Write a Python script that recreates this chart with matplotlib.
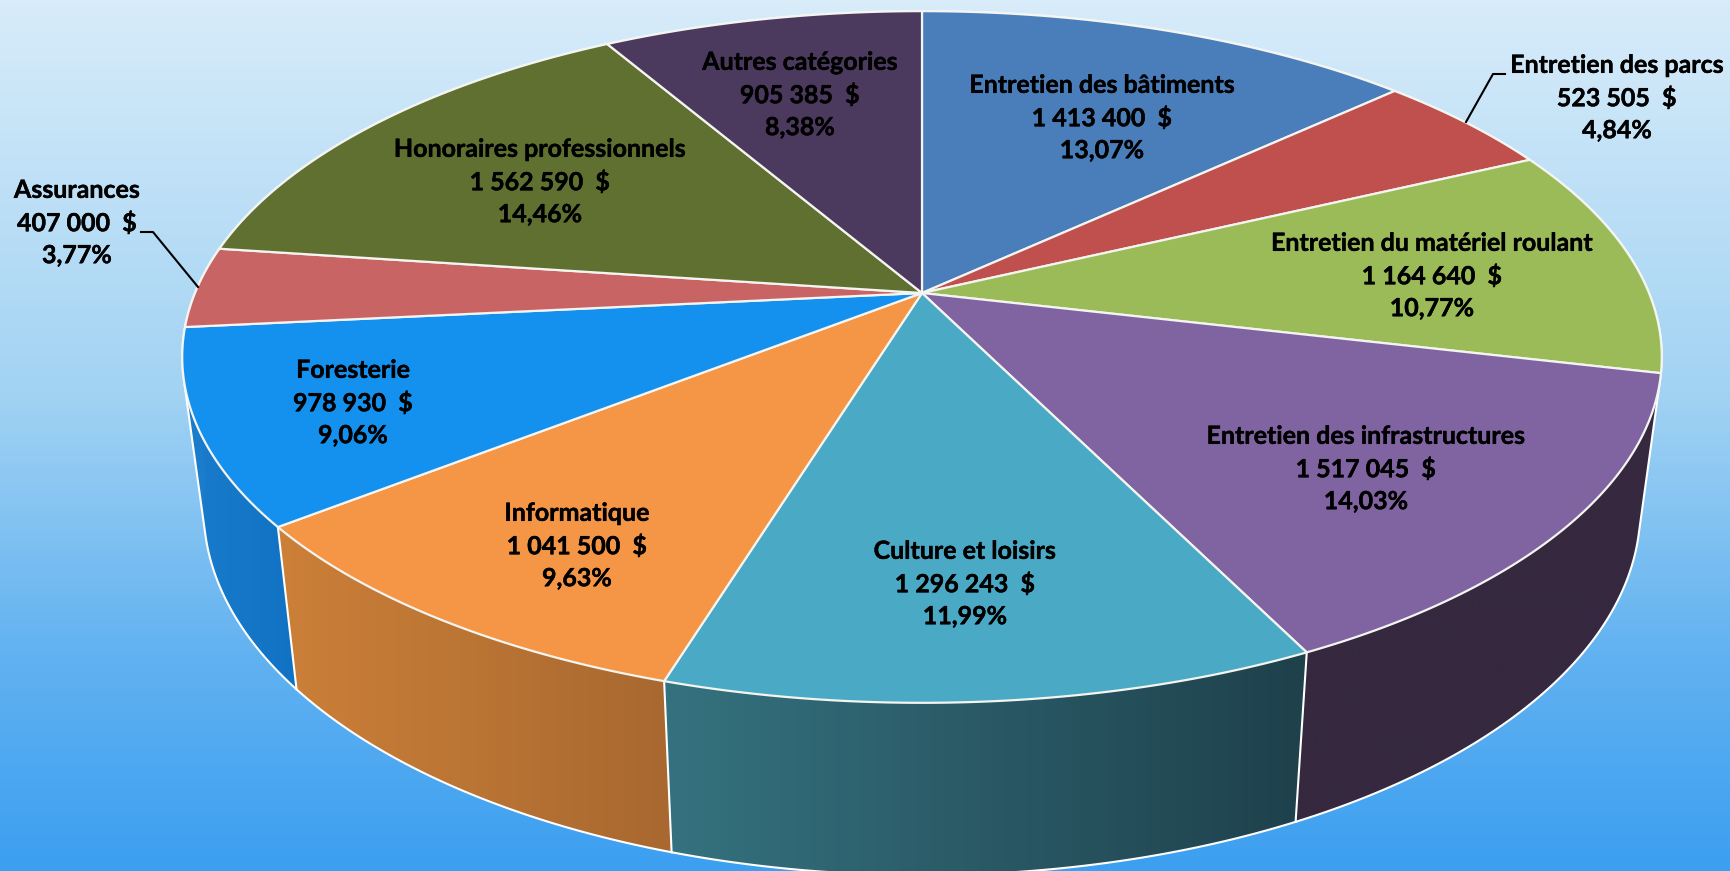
import numpy as np
import matplotlib
matplotlib.use('Agg')
import matplotlib.pyplot as plt
import matplotlib.patheffects as pe
from matplotlib.colors import LinearSegmentedColormap, to_rgb
from matplotlib.patches import Polygon

# Values as printed on the labels, clockwise from 12 o'clock
categories = ["Entretien des bâtiments", "Entretien des parcs", "Entretien du matériel roulant",
              "Entretien des infrastructures", "Culture et loisirs", "Informatique", "Foresterie",
              "Assurances", "Honoraires professionnels", "Autres catégories"]
amounts = [1413400, 523505, 1164640, 1517045, 1296243, 1041500, 978930, 407000, 1562590, 905385]
percents = ["13,07%", "4,84%", "10,77%", "14,03%", "11,99%", "9,63%", "9,06%", "3,77%", "14,46%", "8,38%"]

top_colors = ["#4a7ebb", "#c0504d", "#9bbb59", "#8064a2", "#4aa9c4",
              "#f49645", "#1490ee", "#c86464", "#5f7030", "#4b3a5e"]
# wall colours left -> right, only the slices facing the viewer have one
wall_colors = {3: ("#35283f", "#35283f"), 4: ("#35727f", "#1e414c"),
               5: ("#cc8038", "#a86830"), 6: ("#1a7ccb", "#1172c4")}

label_xy = [(1102, 118), (1617, 98), (1432, 276), (1366, 469), (965, 584),
            (577, 546), (353, 403), (77, 223), (540, 182), (800, 95)]

W, H = 1731, 871
cx, cy = 922, 293
persp = 0.185
a, b = 334, 727
bot_sx, bot_sy, bot_y0 = 0.971, 1.057, 442


def project_top(theta):
    # theta clockwise from the back of the pie
    X, Y = np.sin(theta), np.cos(theta)
    w = 1 + persp * Y
    return cx + b * X / w, cy - a * Y / w


def project_bottom(theta):
    x, y = project_top(theta)
    return cx + bot_sx * (x - cx), bot_y0 + bot_sy * (y - cy)


def convex_hull(points):
    pts = sorted(set(map(tuple, points)))
    def half(seq):
        out = []
        for p in seq:
            while len(out) > 1 and ((out[-1][0] - out[-2][0]) * (p[1] - out[-2][1])
                                    - (out[-1][1] - out[-2][1]) * (p[0] - out[-2][0])) <= 0:
                out.pop()
            out.append(p)
        return out[:-1]
    return np.array(half(pts) + half(pts[::-1]))


def fmt_amount(v):
    return f"{v:,}".replace(",", " ") + "  $"


fig = plt.figure(figsize=(W / 100, H / 100), dpi=100)
ax = fig.add_axes([0, 0, 1, 1])
ax.set_xlim(0, W)
ax.set_ylim(H, 0)
ax.axis('off')

# background gradient
bg = LinearSegmentedColormap.from_list('bg', [(0, "#d8ecfa"), (0.45, "#a2d3f3"), (0.75, "#62b2f1"), (1, "#3c9ff0")])
ax.imshow(np.linspace(0, 1, 256)[:, None], cmap=bg, extent=(0, W, H, 0), aspect='auto', zorder=0)

edges = np.concatenate([[0], np.cumsum(amounts)]) / sum(amounts) * 2 * np.pi

# silhouette of the whole side, split in two for the side colours
ring = np.linspace(0, 2 * np.pi, 720)
hull = convex_hull(np.vstack([np.column_stack(project_top(ring)), np.column_stack(project_bottom(ring))]))
for col, keep in (("#35283f", hull[:, 0] >= cx), ("#1a7ccb", hull[:, 0] <= cx)):
    ax.add_patch(Polygon(hull[keep], closed=True, facecolor=col, edgecolor='none', zorder=1))
ax.add_patch(Polygon(hull, closed=True, facecolor='none', edgecolor='white', lw=1.5, zorder=2.5))

# walls
for i in wall_colors:
    t = np.linspace(edges[i], edges[i + 1], 80)
    xt, yt = project_top(t)
    xb, yb = project_bottom(t)
    pts = np.column_stack([np.r_[xt, xb[::-1]], np.r_[yt, yb[::-1]]])
    c0, c1 = [np.array(to_rgb(c)) for c in wall_colors[i]]
    ramp = np.linspace(0, 1, 128)[:, None] * (c1 - c0) + c0
    x0, x1 = pts[:, 0].min(), pts[:, 0].max()
    y0, y1 = pts[:, 1].min(), pts[:, 1].max()
    im = ax.imshow(ramp[None, :, :], extent=(x0, x1, y1, y0), aspect='auto', zorder=1.5)
    im.set_clip_path(Polygon(pts, closed=True, transform=ax.transData))

# dividers between the visible wall pieces
for i in (4, 5, 6):
    xt, yt = project_top(edges[i])
    xb, yb = project_bottom(edges[i])
    ax.plot([xt, xb], [yt, yb], color='white', lw=1.5, zorder=2.5)

ax.set_xlim(0, W)
ax.set_ylim(H, 0)

# top faces
for i, col in enumerate(top_colors):
    t = np.linspace(edges[i], edges[i + 1], 120)
    xt, yt = project_top(t)
    pts = np.column_stack([np.r_[cx, xt], np.r_[cy, yt]])
    ax.add_patch(Polygon(pts, closed=True, facecolor=col, edgecolor='#f4f4f0', lw=1.6, zorder=3, joinstyle='round'))

# leader lines
ax.plot([141, 153, 198], [232, 232, 287], color='black', lw=1.5, zorder=4)
ax.plot([1505, 1493, 1466], [74, 74, 122], color='black', lw=1.5, zorder=4)

for name, amt, pct, (x, y) in zip(categories, amounts, percents, label_xy):
    ax.text(x, y, f"{name}\n{fmt_amount(amt)}\n{pct}", ha='center', va='center', family='Lato',
            fontweight='bold', fontsize=18, linespacing=1.47, color='black', zorder=5,
            path_effects=[pe.withStroke(linewidth=0.3, foreground='black')])

fig.savefig('out.png', dpi=100)
